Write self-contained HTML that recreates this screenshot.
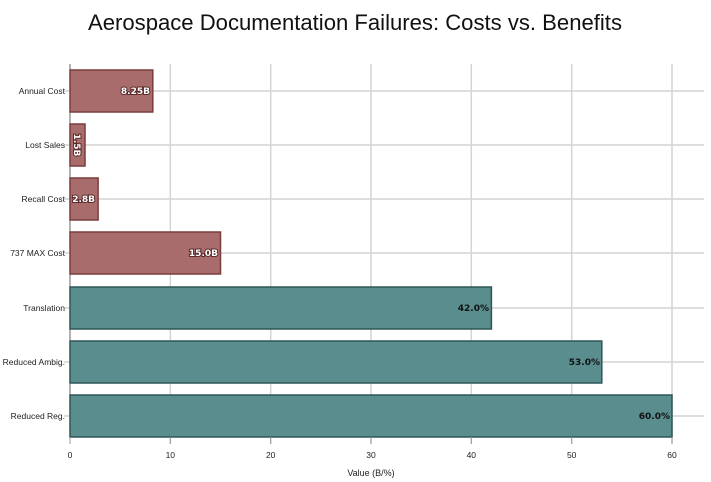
<!DOCTYPE html>
<html><head><meta charset="utf-8"><style>html,body{margin:0;padding:0;background:#fff}svg{display:block}</style></head>
<body>
<svg width="711" height="482" viewBox="0 0 711 482" xmlns="http://www.w3.org/2000/svg" font-family="Liberation Sans, DejaVu Sans, sans-serif">
<rect width="711" height="482" fill="#fff"/>
<text x="355" y="30" font-size="22" text-anchor="middle" fill="#111" textLength="534" lengthAdjust="spacingAndGlyphs">Aerospace Documentation Failures: Costs vs. Benefits</text>
<g stroke="#d4d4d4" stroke-width="1.5">
<line x1="170.3" y1="64" x2="170.3" y2="444"/><line x1="270.7" y1="64" x2="270.7" y2="444"/>
<line x1="371" y1="64" x2="371" y2="444"/><line x1="471.3" y1="64" x2="471.3" y2="444"/>
<line x1="571.7" y1="64" x2="571.7" y2="444"/><line x1="672" y1="64" x2="672" y2="444"/>
<line x1="64" y1="91" x2="704" y2="91"/><line x1="64" y1="145" x2="704" y2="145"/>
<line x1="64" y1="199" x2="704" y2="199"/><line x1="64" y1="253" x2="704" y2="253"/>
<line x1="64" y1="308" x2="704" y2="308"/><line x1="64" y1="362" x2="704" y2="362"/>
<line x1="64" y1="416" x2="704" y2="416"/>
</g>
<line x1="70" y1="64" x2="70" y2="444" stroke="#666" stroke-width="1"/>
<g fill="#a86c6c" stroke="#7a3c3c" stroke-width="1.5">
<rect x="70" y="70" width="82.8" height="42"/>
<rect x="70" y="124" width="15" height="42"/>
<rect x="70" y="178" width="28.1" height="42"/>
<rect x="70" y="232" width="150.5" height="42"/>
</g>
<g fill="#5a8d8e" stroke="#2f5757" stroke-width="1.5">
<rect x="70" y="287" width="421.4" height="42"/>
<rect x="70" y="341" width="531.8" height="42"/>
<rect x="70" y="395" width="602" height="42"/>
</g>
<g font-size="9" font-weight="bold" font-family="DejaVu Sans, sans-serif" fill="#fff" stroke="#5a2a2a" stroke-width="2" paint-order="stroke" text-anchor="end">
<text x="150" y="94">8.25B</text>
<text x="95" y="202">2.8B</text>
<text x="218" y="256">15.0B</text>
<text transform="translate(74,145) rotate(90)" text-anchor="middle">1.5B</text>
</g>
<g font-size="9" font-weight="bold" font-family="DejaVu Sans, sans-serif" fill="#111" stroke="#fff" stroke-width="0" text-anchor="end">
<text x="489" y="311">42.0%</text>
<text x="600" y="365">53.0%</text>
<text x="670" y="419">60.0%</text>
</g>
<g font-size="8.5" fill="#222" text-anchor="end">
<text x="65" y="94">Annual Cost</text>
<text x="65" y="148">Lost Sales</text>
<text x="65" y="202">Recall Cost</text>
<text x="65" y="256">737 MAX Cost</text>
<text x="65" y="311">Translation</text>
<text x="65" y="365">Reduced Ambig.</text>
<text x="65" y="419">Reduced Reg.</text>
</g>
<g stroke="#999" stroke-width="1">
<line x1="70" y1="437" x2="70" y2="444"/><line x1="170.3" y1="437" x2="170.3" y2="444"/>
<line x1="270.7" y1="437" x2="270.7" y2="444"/><line x1="371" y1="437" x2="371" y2="444"/>
<line x1="471.3" y1="437" x2="471.3" y2="444"/><line x1="571.7" y1="437" x2="571.7" y2="444"/>
<line x1="672" y1="437" x2="672" y2="444"/>
</g>
<g font-size="8.5" fill="#222" text-anchor="middle">
<text x="70" y="458">0</text><text x="170.3" y="458">10</text><text x="270.7" y="458">20</text>
<text x="371" y="458">30</text><text x="471.3" y="458">40</text><text x="571.7" y="458">50</text>
<text x="672" y="458">60</text>
<text x="371" y="476" font-size="9">Value (B/%)</text>
</g>
</svg>
</body></html>
